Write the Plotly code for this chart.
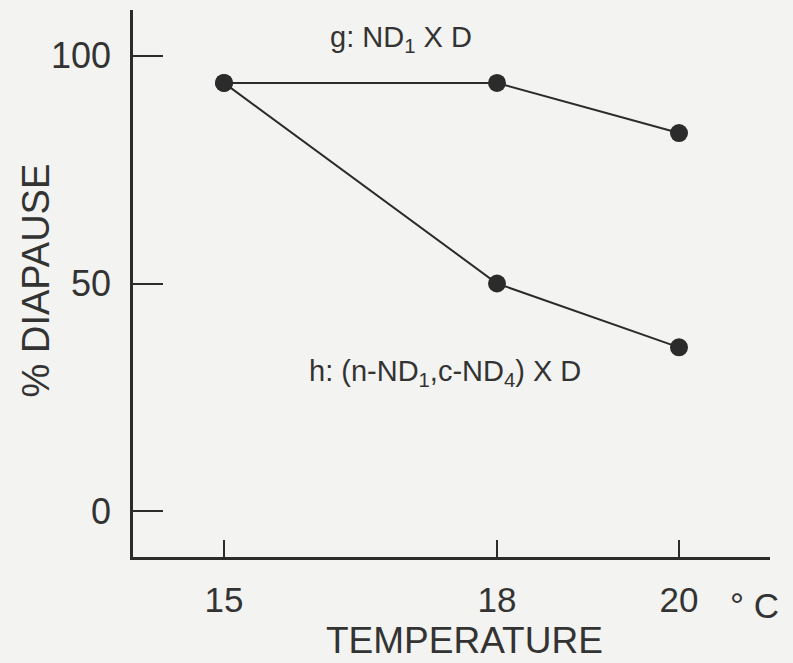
import plotly.graph_objects as go

temps = [15, 18, 20]
g_values = [94, 94, 83]
h_values = [94, 50, 36]
x_ticks = [15, 18, 20]
y_ticks = [0, 50, 100]

ink = "#2b2b2b"
txt = "#333333"
bg = "#f3f3f1"
font_family = "Liberation Sans, Arial, Helvetica, sans-serif"

fig = go.Figure()
for vals in (g_values, h_values):
    fig.add_trace(go.Scatter(
        x=temps, y=vals, mode="lines+markers",
        line=dict(color=ink, width=2),
        marker=dict(color=ink, size=18),
        showlegend=False,
    ))

fig.update_layout(
    width=793, height=663,
    margin=dict(l=133, r=23, t=10, b=106),
    paper_bgcolor=bg, plot_bgcolor=bg,
    font=dict(family=font_family, color=txt, size=36),
    xaxis=dict(
        range=[14, 21], tickvals=x_ticks, ticktext=[str(v) for v in x_ticks],
        ticks="inside", ticklen=17, tickwidth=2, tickcolor=ink,
        showline=True, linecolor=ink, linewidth=2.5,
        showgrid=False, zeroline=False, ticklabelstandoff=10,
        tickfont=dict(size=35),
    ),
    yaxis=dict(
        range=[-10, 110], tickvals=y_ticks, ticktext=[str(v) for v in y_ticks],
        ticks="inside", ticklen=30, tickwidth=2, tickcolor=ink,
        showline=True, linecolor=ink, linewidth=2.5,
        showgrid=False, zeroline=False, ticklabelstandoff=12,
        tickfont=dict(size=36),
    ),
)

fig.add_annotation(x=16.95, y=103.7, text="g: ND<sub>1</sub> X D", showarrow=False,
                   font=dict(size=29), xanchor="center", yanchor="middle")
fig.add_annotation(x=17.43, y=30.3, text="h: (n-ND<sub>1</sub>,c-ND<sub>4</sub>) X D", showarrow=False,
                   font=dict(size=29), xanchor="center", yanchor="middle")
fig.add_annotation(xref="paper", yref="paper", x=0.976, y=-0.088, text="° C", showarrow=False,
                   font=dict(size=35), xanchor="center", yanchor="middle")
fig.add_annotation(xref="paper", yref="paper", x=0.521, y=-0.153, text="TEMPERATURE", showarrow=False,
                   font=dict(size=37), xanchor="center", yanchor="middle")
fig.add_annotation(xref="paper", yref="paper", x=-0.152, y=0.506, text="% DIAPAUSE", showarrow=False,
                   font=dict(size=38), textangle=-90, xanchor="center", yanchor="middle")

fig.write_html("out.html")
